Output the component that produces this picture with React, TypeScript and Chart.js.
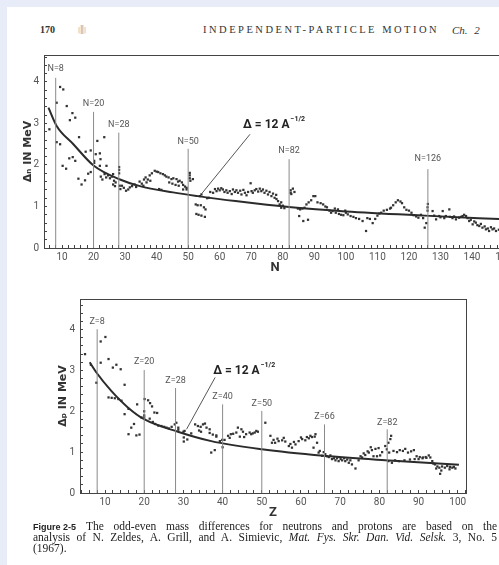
import React, { useEffect, useRef } from 'react';
import { Chart, registerables } from 'chart.js';

Chart.register(...registerables);

// ---------- Upper panel: neutrons ----------
const neutronPoints: [number, number][] = [
  [6.0, 2.86], [8.3, 3.5], [8.3, 2.55], [9.4, 2.5], [9.4, 3.88], [10.4, 3.82], [11.5, 3.42], [10.2, 1.98], [11.3, 1.91],
  [12.5, 3.08], [13.3, 3.25], [14.2, 3.14], [12.3, 2.16], [13.4, 2.19], [14.2, 2.1], [15.4, 2.67], [15.2, 1.67], [16.2, 1.53],
  [17.3, 1.63], [17.5, 2.32], [19.1, 2.35], [18.3, 1.79], [19.1, 1.83], [20.2, 2.1], [20.2, 2.05], [20.7, 2.26], [21.2, 2.58],
  [22, 2.28], [23.4, 2.67], [22.2, 2.14], [22, 1.98], [24.1, 1.98],
  [22.3, 1.72], [22.8, 1.65], [23.5, 1.78], [24, 1.7], [24.6, 1.75], [25.2, 1.68], [25.8, 1.72], [26.5, 1.62], [27, 1.58],
  [26.2, 1.53], [26.8, 1.49], [26.2, 1.78],
  [28.1, 1.95], [28.1, 1.88], [28.1, 1.8], [28.3, 1.5], [28.5, 1.42],
  [29, 1.5], [29.6, 1.45], [30.3, 1.38], [31, 1.41], [31.5, 1.46], [32.2, 1.49], [33, 1.53], [33.5, 1.47],
  [34.6, 1.6], [35.3, 1.55], [36, 1.65], [36.5, 1.7], [37.2, 1.65], [37.8, 1.75], [38.5, 1.8], [39.4, 1.86], [40, 1.84],
  [40.5, 1.83], [41.2, 1.8], [42, 1.78], [42.6, 1.75], [43.1, 1.72], [43.8, 1.7], [44.7, 1.66], [45.3, 1.68], [46.3, 1.66],
  [46.8, 1.6], [47.3, 1.62], [48, 1.58], [48.4, 1.52], [49, 1.48], [49.5, 1.45],
  [35.8, 1.5], [36.8, 1.58], [38, 1.62], [40.8, 1.42], [41.5, 1.4], [44, 1.58], [45, 1.55], [46, 1.52], [47, 1.5],
  [48.4, 1.41], [49.5, 1.41],
  [50.5, 1.81], [50.5, 1.75], [50.5, 1.68], [50.7, 1.62], [51.5, 1.66],
  [52.4, 1.05], [53, 1.03], [54, 1.03], [55, 0.98], [52.6, 0.82], [53.3, 0.8], [54.2, 0.78], [55.3, 0.75], [53.7, 1.25],
  [54.2, 1.29], [55.5, 0.93], [56, 1.2], [56.5, 1.21], [57, 1.35],
  [57.9, 1.33], [59, 1.37], [60, 1.39], [61, 1.41], [62.1, 1.39], [63.2, 1.37], [64.2, 1.41], [65.3, 1.39], [65.8, 1.33],
  [66.9, 1.29], [68, 1.33], [69, 1.35], [70.1, 1.37], [71.1, 1.39], [72.2, 1.36], [73.2, 1.37], [74.2, 1.33], [75.3, 1.29],
  [76.4, 1.25], [77.4, 1.21], [78.5, 1.13], [79, 1.05], [79.5, 0.97],
  [58.5, 1.42], [59.5, 1.43], [60.5, 1.44], [61.5, 1.35], [62.5, 1.33], [63.8, 1.3], [64.8, 1.35], [66.5, 1.38], [67.5, 1.4],
  [68.5, 1.27], [70.5, 1.33], [71.6, 1.42], [72.7, 1.43], [73.7, 1.41], [74.8, 1.38], [75.8, 1.35], [76.9, 1.31], [77.9, 1.28],
  [78, 1.18], [79.5, 1.1], [80, 1.02], [80.5, 0.96],
  [69.8, 1.56],
  [82.5, 1.39], [82.5, 1.33], [82.7, 1.3], [83.2, 1.43], [83.7, 1.35],
  [84.8, 0.95], [85.5, 0.93], [86.2, 0.95], [86.9, 0.97], [85.2, 0.77], [86.5, 0.65], [88, 0.68], [87.5, 1.05], [88.2, 1.1],
  [89, 1.15], [89.7, 1.25], [90.3, 1.25], [91, 1.1], [92, 1.08], [92.8, 1.05], [93.5, 1.0], [94, 0.98], [94.8, 0.9],
  [95.8, 0.89], [96.8, 0.85], [97.8, 0.82], [98.5, 0.8], [99.2, 0.79], [100, 0.85], [96.5, 0.95], [97.5, 0.93], [99.8, 0.9],
  [95.3, 0.85],
  [100.6, 0.81], [101.5, 0.77], [102.4, 0.75], [103.2, 0.72], [104.2, 0.7], [105.3, 0.65], [106.4, 0.41], [106.8, 0.72],
  [107.6, 0.7], [108.5, 0.6], [109.3, 0.7], [110, 0.78], [110.6, 0.83], [111.2, 0.85], [112, 0.9], [113, 0.92], [114, 0.95],
  [114.3, 0.97], [115, 1.03], [115.8, 1.1], [116.5, 1.15], [117.3, 1.12], [117.8, 1.08], [118.5, 0.98], [119.2, 0.92],
  [120, 0.9], [120.8, 0.85], [121.5, 0.79], [122.3, 0.76], [123, 0.73], [123.8, 0.8], [124.5, 0.72],
  [125.9, 0.98], [126, 1.06], [125.9, 0.9], [125, 0.49], [125.5, 0.6],
  [127.5, 0.89], [128.6, 0.69], [129.6, 0.77], [130.7, 0.89], [131.7, 0.77], [132.8, 0.93], [133.8, 0.72], [134.9, 0.69],
  [135.9, 0.73], [137, 0.77], [138.1, 0.77], [139.1, 0.65], [140.2, 0.57], [141.2, 0.61], [142.3, 0.53], [143.3, 0.49],
  [144.4, 0.45], [145.4, 0.41], [146.5, 0.45], [147.6, 0.41],
  [128, 0.78], [130, 0.74], [131.2, 0.72], [133, 0.75], [134.3, 0.76], [136.5, 0.75], [137.5, 0.8], [138.6, 0.72],
  [139.6, 0.68], [140.7, 0.64], [141.7, 0.55], [142.8, 0.58], [144, 0.52], [145, 0.47], [146, 0.5], [147, 0.47],
  [148.5, 0.44], [149.5, 0.38], [150.2, 0.42],
];
const neutronCurveN = [5.7, 8.3, 13.6, 20.1, 28.4, 34.7, 45.2, 53.1, 65, 82.7, 100, 125, 150.7];
const neutronCurveDelta = [3.38, 2.94, 2.5, 1.98, 1.65, 1.49, 1.34, 1.25, 1.13, 0.98, 0.88, 0.78, 0.69];
const neutronMagic = [8, 20, 28, 50, 82, 126];
const neutronMagicTop = [4.1, 3.28, 2.78, 2.39, 2.14, 1.9];
const neutronMagicLabelY = [4.32, 3.47, 2.98, 2.57, 2.35, 2.14];
const neutronPointer: [number, number][] = [[54.3, 1.31], [69.6, 2.74]];
const neutronFormulaAt: [number, number] = [67.4, 2.9];

// ---------- Lower panel: protons ----------
const protonPoints: [number, number][] = [
  [4.9, 3.4], [6.4, 3.14], [7.8, 2.7], [8.9, 3.71], [10.1, 3.82], [8.9, 3.19], [10.9, 3.28], [12, 3.07], [12.9, 3.14],
  [14, 3.03], [10.9, 2.34], [11.7, 2.33], [12.5, 2.32], [13.4, 2.3], [14.2, 2.26], [15, 2.65], [15, 1.93], [16, 2.06],
  [16, 1.44], [16.7, 1.6], [17.4, 1.69], [18, 1.41], [18.8, 1.43], [18.2, 2.17], [19.3, 1.85], [20, 1.9], [20, 1.85],
  [20, 2.0], [20.1, 2.3], [21, 2.27], [21.5, 2.2], [22, 2.12], [22.6, 1.97], [23.3, 1.96], [21.4, 1.82], [22.2, 1.74],
  [22.8, 1.69], [23.6, 1.65],
  [24.4, 1.64], [25.1, 1.62], [25.7, 1.6], [26.3, 1.58], [27, 1.62], [27.8, 1.68], [28.2, 1.72], [28.7, 1.55], [28.7, 1.6],
  [30, 1.5], [30.3, 1.52], [30.1, 1.36], [30.1, 1.26], [31, 1.31], [32, 1.46], [33, 1.68], [33.7, 1.64], [34.4, 1.62],
  [35, 1.68], [35.5, 1.7], [35.9, 1.6], [36.7, 1.56], [34, 1.53], [34.5, 1.5], [36.7, 1.47], [37.5, 1.43], [38.4, 1.41],
  [37.1, 0.99], [38, 1.05], [38.4, 1.38], [39.3, 1.27], [39.9, 1.3], [40.5, 1.3], [40, 1.12],
  [41.4, 1.4], [42.1, 1.44], [42.7, 1.45], [43.5, 1.48], [43.9, 1.6], [44.8, 1.56], [45.2, 1.5], [46, 1.44], [46.9, 1.48],
  [47.3, 1.44], [48.2, 1.48], [49, 1.5], [41.8, 1.35], [44.4, 1.38], [45.5, 1.37], [47.7, 1.46], [48.6, 1.52],
  [50.9, 1.72], [52.2, 1.4], [52.6, 1.23], [53.4, 1.23], [54.3, 1.27], [55.2, 1.29], [56, 1.26], [56.9, 1.15], [57.7, 1.11],
  [58.6, 1.19], [59.4, 1.27], [60.3, 1.32], [61.1, 1.29], [62, 1.34], [62.8, 1.37], [63.7, 1.44], [64.1, 1.23], [63.2, 1.11],
  [53, 1.3], [54, 1.33], [55.6, 1.35], [57.3, 1.2], [58.2, 1.25], [60, 1.36], [61.5, 1.37], [62.4, 1.4], [63.5, 1.38],
  [64.5, 0.99], [65.4, 0.91], [66.2, 0.95], [67.1, 0.88], [67.9, 0.83], [68.8, 0.8], [69.6, 0.78], [70.5, 0.8], [71.3, 0.78],
  [72.2, 0.74], [73, 0.7], [73.9, 0.6], [64.8, 1.03], [65.8, 1.0], [66.6, 0.9], [67.5, 0.92], [68.4, 0.85], [69.2, 0.85],
  [70.1, 0.83], [71, 0.85], [71.8, 0.82], [72.6, 0.8],
  [74.7, 0.8], [75.6, 0.87], [76.4, 0.93], [77.3, 0.99], [78.1, 1.05], [79, 1.08], [79.8, 1.1], [80.7, 1.0], [75.2, 0.9],
  [76, 0.97], [77, 1.02], [78.5, 0.9], [79.4, 0.9], [80.2, 0.92], [77.8, 1.12],
  [81.5, 1.15], [81.9, 1.07], [82.3, 1.23], [82.8, 1.32], [83, 1.4], [82.5, 0.99], [82.3, 0.78], [83.2, 0.74],
  [83.6, 1.03], [84.5, 1.0], [85.2, 1.05], [86, 1.03], [86.6, 1.08], [87.3, 0.99], [88.1, 1.02], [88.8, 1.05], [89.5, 0.9],
  [90.3, 0.88], [91.1, 0.87], [91.8, 0.88], [92.6, 0.92], [84, 0.8], [85, 0.78], [86.4, 0.8], [87.8, 0.82], [89, 0.83],
  [90, 0.83], [91, 0.85], [92, 0.86], [93, 0.87],
  [93.5, 0.78], [94.2, 0.7], [94.8, 0.65], [95.3, 0.62], [95.5, 0.47], [96, 0.65], [96.7, 0.62], [97.3, 0.66], [98, 0.64],
  [98.6, 0.62], [99.4, 0.6], [93.8, 0.72], [94.5, 0.6], [95.8, 0.55], [97.9, 0.58], [99, 0.64],
];
const protonCurveZ = [6.1, 7.8, 11.6, 15.9, 20.1, 28.6, 37.1, 50, 65.8, 81.5, 100.3];
const protonCurveDelta = [3.2, 2.95, 2.5, 2.09, 1.8, 1.5, 1.27, 1.07, 0.91, 0.8, 0.69];
const protonMagic = [8, 20, 28, 40, 50, 66, 82];
const protonMagicTop = [4.01, 3.01, 2.57, 2.17, 2.01, 1.68, 1.56];
const protonMagicLabelY = [4.2, 3.21, 2.75, 2.36, 2.19, 1.87, 1.72];
const protonPointer: [number, number][] = [[30.8, 1.56], [38.1, 2.83]];
const protonFormulaAt: [number, number] = [37.6, 2.92];

const SANS = 'Roboto, "DejaVu Sans", sans-serif';
const INK = '#333';

type PanelCfg = {
  points: [number, number][];
  curveX: number[];
  curveY: number[];
  magic: number[];
  magicTop: number[];
  magicLabelY: number[];
  prefix: string;
  pointer: [number, number][];
  formulaAt: [number, number];
  xMin: number;
  xMax: number;
  yMax: number;
  xTitle: string;
  yTitle: string;
  padding: { left: number; top: number; right: number; bottom: number };
  yTitlePad: number;
  xTitlePad: number;
};

const makeConfig = (p: PanelCfg): any => {
  const annotate = {
    id: 'annotate',
    afterDatasetsDraw(chart: any) {
      const { ctx, chartArea: a } = chart;
      const x = chart.scales.x;
      const y = chart.scales.y;
      ctx.save();
      ctx.strokeStyle = '#444';
      ctx.lineWidth = 1;
      ctx.strokeRect(Math.round(a.left) + 0.5, Math.round(a.top) + 0.5, Math.round(a.right - a.left), Math.round(a.bottom - a.top));
      ctx.fillStyle = '#555';
      ctx.font = `9px ${SANS}`;
      ctx.textAlign = 'center';
      ctx.textBaseline = 'middle';
      p.magic.forEach((m, i) => {
        ctx.fillText(`${p.prefix}=${m}`, x.getPixelForValue(m), y.getPixelForValue(p.magicLabelY[i]));
      });
      const fx = x.getPixelForValue(p.formulaAt[0]);
      const fy = y.getPixelForValue(p.formulaAt[1]);
      ctx.fillStyle = '#222';
      ctx.textAlign = 'left';
      ctx.textBaseline = 'alphabetic';
      ctx.font = `bold 12px ${SANS}`;
      const main = 'Δ = 12 A';
      ctx.fillText(main, fx, fy);
      const w = ctx.measureText(main).width;
      ctx.font = `bold 7px ${SANS}`;
      ctx.fillText('−1/2', fx + w + 1, fy - 7);
      ctx.restore();
    },
  };

  const lineDs = (data: { x: number; y: number }[], color: string, width: number, extra: any = {}) => ({
    data,
    showLine: true,
    borderColor: color,
    borderWidth: width,
    pointRadius: 0,
    fill: false,
    ...extra,
  });

  const datasets: any[] = [
    ...p.magic.map((m, i) => lineDs([{ x: m, y: 0 }, { x: m, y: p.magicTop[i] }], '#8a8a8a', 1)),
    lineDs(p.pointer.map(([px, py]) => ({ x: px, y: py })), '#555', 1),
    lineDs(p.curveX.map((cx, i) => ({ x: cx, y: p.curveY[i] })), '#2b2b2b', 2, { cubicInterpolationMode: 'monotone' }),
    {
      data: p.points.map(([px, py]) => ({ x: px, y: py })),
      showLine: false,
      pointStyle: 'rect',
      pointRadius: 1.6,
      pointBackgroundColor: '#333',
      pointBorderWidth: 0,
    },
  ];

  const isWhole = (v: number, step: number) => Math.abs(v / step - Math.round(v / step)) < 1e-6;

  return {
    type: 'scatter',
    data: { datasets },
    plugins: [annotate],
    options: {
      responsive: false,
      animation: false,
      events: [],
      layout: { padding: p.padding },
      plugins: { legend: { display: false }, tooltip: { enabled: false } },
      scales: {
        x: {
          type: 'linear',
          min: p.xMin,
          max: p.xMax,
          afterFit: (s: any) => { s.height = 30; },
          border: { display: true, color: INK, width: 1 },
          grid: { drawOnChartArea: false, drawTicks: true, tickLength: -3, color: '#444' },
          ticks: {
            stepSize: 2,
            autoSkip: false,
            includeBounds: false,
            maxRotation: 0,
            padding: 6,
            color: '#555',
            font: { family: SANS, size: 10 },
            callback: (v: number) => (isWhole(v, 10) ? String(Math.round(v)) : ''),
          },
          title: {
            display: true,
            text: p.xTitle,
            color: INK,
            font: { family: SANS, size: 13, weight: 'bold' },
            padding: { top: 0, bottom: p.xTitlePad },
          },
        },
        y: {
          type: 'linear',
          min: 0,
          max: p.yMax,
          afterFit: (s: any) => { s.width = 30; },
          border: { display: true, color: INK, width: 1 },
          grid: { drawOnChartArea: false, drawTicks: true, tickLength: -3, color: '#444' },
          ticks: {
            stepSize: 0.2,
            autoSkip: false,
            includeBounds: false,
            padding: 8,
            color: '#555',
            font: { family: SANS, size: 10 },
            callback: (v: number) => (isWhole(v, 1) ? String(Math.round(v)) : ''),
          },
          title: {
            display: true,
            text: p.yTitle,
            color: INK,
            font: { family: '"DejaVu Sans", sans-serif', size: 11, weight: 'bold' },
            padding: { top: p.yTitlePad, bottom: 0 },
          },
        },
      },
    },
  };
};

const neutronPanel: PanelCfg = {
  points: neutronPoints,
  curveX: neutronCurveN,
  curveY: neutronCurveDelta,
  magic: neutronMagic,
  magicTop: neutronMagicTop,
  magicLabelY: neutronMagicLabelY,
  prefix: 'N',
  pointer: neutronPointer,
  formulaAt: neutronFormulaAt,
  xMin: 4.29,
  xMax: 150.77,
  yMax: 4.65,
  xTitle: 'N',
  yTitle: 'Δₙ IN MeV',
  padding: { left: 14, top: 15, right: 14, bottom: 0 },
  yTitlePad: 8,
  xTitlePad: 2,
};

const protonPanel: PanelCfg = {
  points: protonPoints,
  curveX: protonCurveZ,
  curveY: protonCurveDelta,
  magic: protonMagic,
  magicTop: protonMagicTop,
  magicLabelY: protonMagicLabelY,
  prefix: 'Z',
  pointer: protonPointer,
  formulaAt: protonFormulaAt,
  xMin: 3.62,
  xMax: 102.1,
  yMax: 4.75,
  xTitle: 'Z',
  yTitle: 'Δₚ IN MeV',
  padding: { left: 50, top: 14, right: 14, bottom: 0 },
  yTitlePad: 7,
  xTitlePad: 2,
};

function Panel({ cfg, left, top, width, height }: { cfg: PanelCfg; left: number; top: number; width: number; height: number }) {
  const ref = useRef<HTMLCanvasElement>(null);
  useEffect(() => {
    const chart = new Chart(ref.current as HTMLCanvasElement, makeConfig(cfg));
    return () => chart.destroy();
  }, [cfg]);
  return (
    <canvas
      ref={ref}
      width={width}
      height={height}
      style={{ position: 'absolute', left, top, width, height, display: 'block' }}
    />
  );
}

export default function App() {
  const serif = '"Liberation Serif", "Times New Roman", serif';
  return (
    <div style={{ position: 'fixed', left: 0, top: 0, width: 499, height: 565, overflow: 'hidden', background: '#e8ebf8' }}>
      <div style={{ position: 'absolute', left: 7, top: 7, right: 0, bottom: 0, background: '#fff' }} />
      <div style={{ position: 'absolute', left: 40, top: 24, font: `bold 10px ${serif}`, lineHeight: '12px', color: '#333' }}>170</div>
      <div style={{ position: 'absolute', left: 78, top: 24, font: `8px ${SANS}`, lineHeight: '12px', color: '#aaa' }}>|ǁ|</div>
      <div style={{ position: 'absolute', left: 203, top: 24, font: `10.5px ${serif}`, lineHeight: '12px', color: '#333', letterSpacing: '2.5px', whiteSpace: 'nowrap' }}>
        INDEPENDENT-PARTICLE MOTION
      </div>
      <div style={{ position: 'absolute', left: 452, top: 24, font: `italic 11px ${serif}`, lineHeight: '12px', color: '#333', wordSpacing: '4px', whiteSpace: 'nowrap' }}>
        Ch. 2
      </div>

      <Panel cfg={neutronPanel} left={0} top={40} width={520} height={238} />
      <Panel cfg={protonPanel} left={0} top={285} width={480} height={238} />

      <div style={{ position: 'absolute', left: 33, top: 521, width: 464, font: `11.5px ${serif}`, lineHeight: '10.5px', color: '#222' }}>
        <div style={{ textAlign: 'justify', textAlignLast: 'justify' }}>
          <span style={{ display: 'inline-block', font: 'bold 9px "Liberation Sans", Arial, sans-serif', marginRight: 10 }}>Figure 2-5</span>
          The odd-even mass differences for neutrons and protons are based on the
        </div>
        <div style={{ textAlign: 'justify', textAlignLast: 'justify' }}>
          analysis of N. Zeldes, A. Grill, and A. Simievic, <i>Mat. Fys. Skr. Dan. Vid. Selsk.</i> 3, No. 5
        </div>
        <div>(1967).</div>
      </div>
    </div>
  );
}
